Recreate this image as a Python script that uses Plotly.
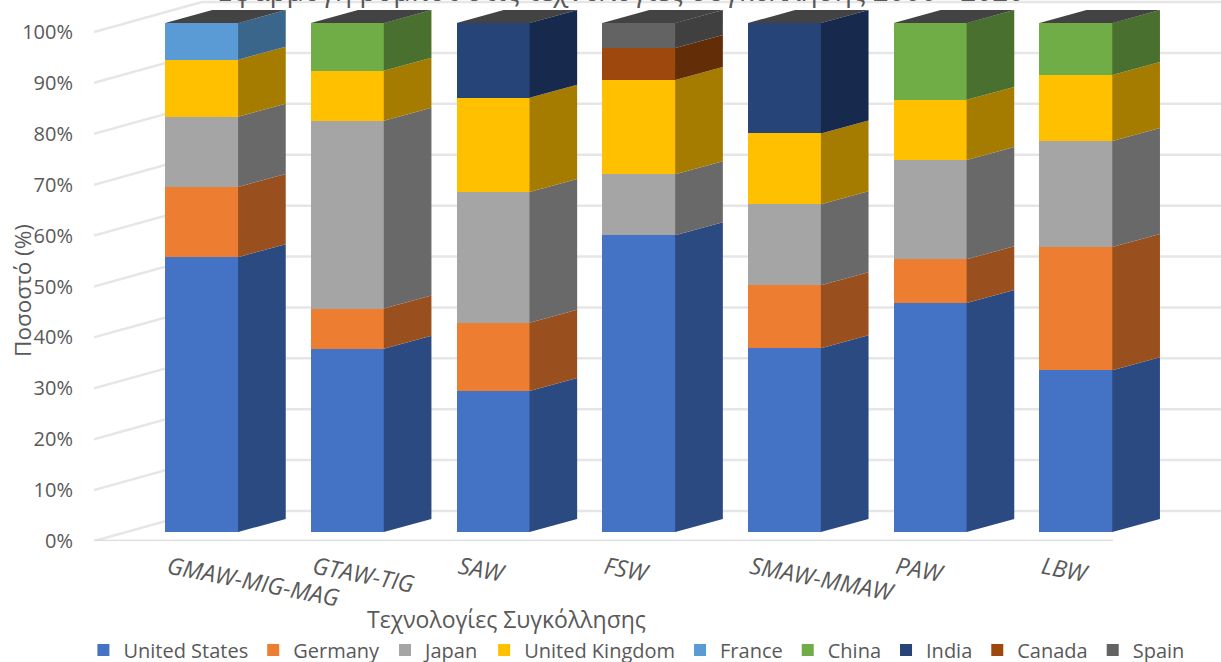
import plotly.graph_objects as go

categories = ["GMAW-MIG-MAG", "GTAW-TIG", "SAW", "FSW", "SMAW-MMAW", "PAW", "LBW"]
united_states = [54.0, 36.0, 27.7, 58.3, 36.1, 45.0, 31.8]
germany = [13.8, 7.9, 13.4, 0, 12.4, 8.6, 24.2]
japan = [13.8, 36.9, 25.7, 12.0, 15.9, 19.5, 20.8]
united_kingdom = [11.2, 9.8, 18.5, 18.5, 13.9, 11.8, 13.0]
france = [7.2, 0, 0, 0, 0, 0, 0]
china = [0, 9.4, 0, 0, 0, 15.1, 10.2]
india = [0, 0, 14.7, 0, 21.7, 0, 0]
canada = [0, 0, 0, 6.3, 0, 0, 0]
spain = [0, 0, 0, 4.9, 0, 0, 0]

series = [
    ("United States", united_states, "#4472C4", "#2B4A82"),
    ("Germany", germany, "#ED7D31", "#9A501E"),
    ("Japan", japan, "#A5A5A5", "#696969"),
    ("United Kingdom", united_kingdom, "#FFC000", "#A67C00"),
    ("France", france, "#5B9BD5", "#3A668C"),
    ("China", china, "#70AD47", "#49702E"),
    ("India", india, "#264478", "#172A4E"),
    ("Canada", canada, "#9E480E", "#632D08"),
    ("Spain", spain, "#636363", "#404040"),
]

grid_values = list(range(0, 101, 10))
grid_labels = [f"{v}%" for v in grid_values]
TEXT = "#595959"
FONT = "Open Sans"

# Oblique projection of the chart box, in axis units
BAR_WIDTH = 0.504
BAR_DX, BAR_DY = 0.323, 2.55      # depth of each column
WALL_DX, WALL_DY = 0.741, 5.89    # depth of the floor
LIFT = 1.77                       # columns stand this far behind the front edge
X_MIN, X_MAX = -0.741, 6.994
FLOOR_END = 6.253
SEAM = 0.004                      # side faces tuck slightly under the front edge

fig = go.Figure()

# Walls and floor
shapes = []
grid_style = dict(color="#E6E6E6", width=2.5)
for v in grid_values:
    shapes.append(dict(type="line", x0=X_MIN, y0=v, x1=X_MIN + WALL_DX, y1=v + WALL_DY,
                       line=grid_style, layer="below"))
    shapes.append(dict(type="line", x0=X_MIN + WALL_DX, y0=v + WALL_DY, x1=X_MAX, y1=v + WALL_DY,
                       line=grid_style, layer="below"))
shapes.append(dict(type="line", x0=X_MIN, y0=0, x1=FLOOR_END, y1=0,
                   line=dict(color="#DCDCDC", width=2.5), layer="below"))

# Column fronts
positions = list(range(len(categories)))
stack = [LIFT] * len(categories)
side_faces = []
for name, values, front, side in series:
    fig.add_trace(go.Bar(x=positions, y=values, base=list(stack), width=BAR_WIDTH, name=name,
                         marker=dict(color=front, line=dict(width=0))))
    xs, ys = [], []
    for i, v in enumerate(values):
        if v > 0:
            right = i + BAR_WIDTH / 2
            low, high = stack[i], stack[i] + v
            xs += [right - SEAM, right + BAR_DX, right + BAR_DX, right - SEAM, right - SEAM, None]
            ys += [low, low + BAR_DY, high + BAR_DY, high, low, None]
        stack[i] += v
    side_faces.append((xs, ys, side))

# Column side faces
for xs, ys, side in side_faces:
    fig.add_trace(go.Scatter(x=xs, y=ys, mode="lines", fill="toself", fillcolor=side,
                             line=dict(width=0), hoverinfo="skip", showlegend=False))

# Column tops
top_x, top_y = [], []
for i in positions:
    left, right = i - BAR_WIDTH / 2, i + BAR_WIDTH / 2
    top = stack[i]
    top_x += [left, right, right + BAR_DX, left + BAR_DX, left, None]
    top_y += [top, top, top + BAR_DY, top + BAR_DY, top, None]
fig.add_trace(go.Scatter(x=top_x, y=top_y, mode="lines", fill="toself", fillcolor="#434343",
                         line=dict(width=0), hoverinfo="skip", showlegend=False))

fig.update_layout(
    width=1221, height=662, autosize=False,
    margin=dict(l=94, r=0, t=0, b=121, autoexpand=False),
    paper_bgcolor="white", plot_bgcolor="white",
    barmode="overlay", bargap=0,
    font=dict(family=FONT, color=TEXT),
    shapes=shapes,
    showlegend=True,
    legend=dict(orientation="h", x=-0.0094, xanchor="left",
                y=-0.2015, yanchor="middle",
                font=dict(size=20, color=TEXT), traceorder="normal", itemclick=False),
    xaxis=dict(range=[X_MIN, X_MAX], showgrid=False, zeroline=False, showline=False,
               tickmode="array", tickvals=[p - BAR_WIDTH / 2 + 0.02 for p in positions],
               ticktext=categories, tickangle=11, ticks="", ticklabelstandoff=8,
               tickfont=dict(size=23.5, color=TEXT, style="italic"), automargin=False),
    yaxis=dict(range=[0, 106.29], showgrid=False, zeroline=False, showline=False,
               tickmode="array", tickvals=grid_values, ticktext=grid_labels, ticks="",
               ticklabelstandoff=20, tickfont=dict(size=20, color=TEXT), automargin=False),
    annotations=[
        dict(text="Εφαρμογή ρομπότ στις τεχνολογίες συγκόλλησης 2000 - 2020",
             xref="paper", yref="paper", x=0.4668, y=1.0180, xanchor="center", yanchor="middle",
             showarrow=False, font=dict(size=28, color=TEXT)),
        dict(text="Τεχνολογίες Συγκόλλησης", xref="paper", yref="paper", x=0.3656, y=-0.144,
             xanchor="center", yanchor="middle", showarrow=False, font=dict(size=23, color=TEXT)),
        dict(text="Ποσοστό (%)", xref="paper", yref="paper", x=-0.0630, y=0.464, textangle=-90,
             xanchor="center", yanchor="middle", showarrow=False, font=dict(size=22.5, color=TEXT)),
    ],
)

fig.write_html("out.html")
